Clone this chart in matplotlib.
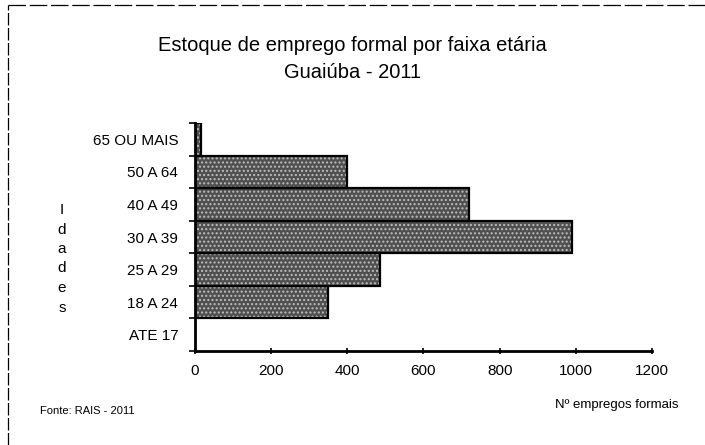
import numpy as np
import matplotlib
matplotlib.use('Agg')
import matplotlib.pyplot as plt
from matplotlib.lines import Line2D

# faixas etarias, de baixo para cima
faixas = ['ATE 17', '18 A 24', '25 A 29', '30 A 39', '40 A 49', '50 A 64', '65 OU MAIS']
empregos = [0, 350, 485, 990, 720, 400, 15]
xticks = [0, 200, 400, 600, 800, 1000, 1200]

plt.rcParams['font.family'] = ['Liberation Sans', 'DejaVu Sans']

fig = plt.figure(figsize=(7.05, 4.45), dpi=100)
ax = fig.add_axes([0.2766, 0.2112, 0.6482, 0.5124])

y = np.arange(len(faixas))
# textura cinza + contorno preto
ax.barh(y, empregos, height=1.0, color='#4f4f4f', edgecolor='#bdbdbd',
        hatch='....', linewidth=0)
ax.barh(y, empregos, height=1.0, fill=False, edgecolor='black', linewidth=1.6)

ax.set_xlim(0, 1200)
ax.set_ylim(-0.5, len(faixas) - 0.5)
ax.set_xticks(xticks)
ax.set_xticklabels([str(v) for v in xticks], fontsize=11)
ax.set_yticks(y)
ax.set_yticklabels(faixas, fontsize=11)
ax.set_yticks(np.arange(len(faixas) + 1) - 0.5, minor=True)
ax.tick_params(axis='y', which='major', length=0, pad=12)
ax.tick_params(axis='y', which='minor', length=4, width=1.2, direction='out')
ax.tick_params(axis='x', length=5, width=1.2, direction='inout', pad=7)

for s in ['top', 'right']:
    ax.spines[s].set_visible(False)
ax.spines['left'].set_linewidth(2)
ax.spines['bottom'].set_linewidth(2)

fig.text(0.5, 0.898, 'Estoque de emprego formal por faixa etária',
         ha='center', va='center', fontsize=14.5)
fig.text(0.5, 0.838, 'Guaiúba - 2011', ha='center', va='center', fontsize=14.5)

# rotulo vertical "Idades"
for i, ch in enumerate('Idades'):
    fig.text(0.088, 1 - (210 + i * 19.5) / 445, ch, ha='center', va='center',
             fontsize=11)

fig.text(0.057, 1 - 411 / 445, 'Fonte: RAIS - 2011', ha='left', va='center',
         fontsize=8)
fig.text(0.962, 1 - 405 / 445, 'Nº empregos formais', ha='right', va='center',
         fontsize=9.5)

# moldura tracejada
fig.add_artist(Line2D([0.012, 0.012], [0.0, 0.988], transform=fig.transFigure,
                      color='black', linewidth=0.9, linestyle=(0, (10, 2))))
fig.add_artist(Line2D([0.012, 1.0], [0.988, 0.988], transform=fig.transFigure,
                      color='black', linewidth=0.9, linestyle=(0, (14, 3))))

fig.savefig('out.png', dpi=100)
